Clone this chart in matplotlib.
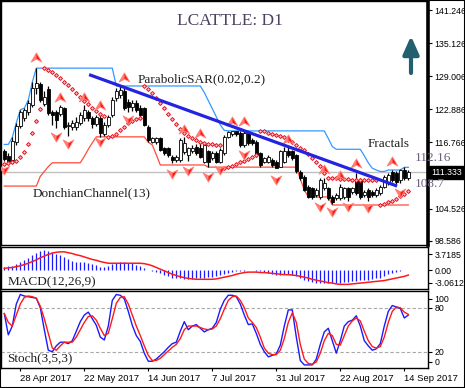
import matplotlib
matplotlib.use("Agg")
import matplotlib.pyplot as plt
from matplotlib.path import Path
from matplotlib.patches import Rectangle

W, H = 465, 388

# ---- data (bar index 0..101, D1 bars) ----
date_labels = ["28 Apr 2017", "22 May 2017", "14 Jun 2017", "7 Jul 2017",
               "31 Jul 2017", "22 Aug 2017", "14 Sep 2017"]
date_bars = [4, 20, 36, 52, 68, 84, 100]

opens = [115.2, 114.2, 113.6, 116.8, 119.8, 121.3, 122.4, 123.7, 126.8, 127.6,
         123.9, 126.6, 122.4, 122.3, 122.0, 123.1, 119.8, 119.6, 119.6, 120.3,
         121.3, 122.4, 121.3, 120.2, 121.3, 118.3, 120.0, 121.8, 125.0, 125.5,
         126.3, 124.3, 123.4, 124.0, 123.1, 123.1, 119.7, 116.9, 116.9, 117.6,
         115.7, 115.7, 114.1, 113.5, 113.5, 115.0, 114.4, 115.1, 116.0, 115.7,
         113.2, 115.1, 113.8, 114.8, 113.2, 114.8, 117.8, 118.3, 118.8, 118.45,
         116.3, 118.45, 117.2, 116.9, 114.75, 113.2, 113.2, 113.5, 113.2, 112.3,
         113.2, 115.1, 115.1, 114.4, 111.36, 110.44, 108.6, 108.3, 107.05, 106.74,
         108.3, 108.29, 106.74, 106.44, 106.44, 106.74, 108.29, 107.66, 109.82, 109.82,
         107.05, 107.97, 107.66, 107.05, 107.36, 108.6, 109.2, 111.36, 111.06, 109.82,
         111.67, 110.14]
highs = [115.5, 114.9, 117.7, 120.4, 122.8, 123.1, 124.6, 127.9, 130.5, 127.9,
         126.3, 127.2, 122.8, 122.8, 123.7, 123.4, 120.5, 121.0, 121.5, 122.3,
         123.7, 122.8, 121.6, 121.8, 121.8, 120.5, 121.9, 125.2, 126.9, 127.2,
         126.8, 124.8, 124.6, 124.6, 123.7, 123.3, 120.0, 117.8, 117.8, 117.8,
         116.0, 116.0, 114.4, 114.4, 117.6, 117.7, 116.0, 116.2, 116.4, 116.8,
         116.5, 115.4, 115.2, 115.1, 115.7, 118.2, 118.9, 118.9, 118.9, 118.8,
         118.9, 118.8, 117.5, 117.2, 115.0, 114.1, 114.4, 113.8, 113.5, 115.4,
         116.0, 116.0, 115.4, 114.7, 111.6, 110.7, 108.9, 108.6, 108.3, 110.1,
         110.2, 108.6, 107.0, 107.4, 109.1, 108.6, 108.6, 108.6, 111.06, 110.1,
         108.0, 108.3, 108.0, 108.3, 108.9, 110.8, 111.2, 111.6, 111.4, 111.9,
         112.16, 111.6]
lows = [113.3, 113.0, 113.3, 116.3, 119.5, 120.8, 121.8, 123.3, 125.8, 124.3,
        123.5, 121.8, 120.0, 119.4, 121.7, 119.3, 117.9, 119.1, 119.1, 119.9,
        120.8, 120.8, 119.4, 119.8, 117.8, 118.0, 119.7, 121.4, 124.5, 125.0,
        122.7, 122.4, 122.6, 122.4, 121.4, 119.8, 116.8, 116.6, 116.5, 115.1,
        114.4, 114.1, 113.0, 113.2, 113.2, 114.7, 113.3, 114.8, 114.4, 113.8,
        112.9, 112.2, 113.5, 113.0, 113.0, 114.5, 117.5, 118.0, 118.0, 116.0,
        116.0, 116.3, 116.3, 114.1, 112.3, 112.9, 112.9, 112.3, 112.2, 112.2,
        112.9, 114.1, 113.5, 111.2, 109.8, 107.7, 106.5, 106.4, 106.7, 106.4,
        108.0, 106.1, 105.3, 106.1, 106.1, 106.4, 105.9, 107.3, 107.0, 106.4,
        106.7, 106.0, 106.7, 106.7, 107.0, 108.3, 108.9, 109.5, 109.0, 109.2,
        109.8, 109.9]
closes = [113.7, 113.4, 117.0, 119.8, 122.3, 122.8, 124.0, 126.8, 127.8, 124.6,
          125.1, 122.2, 121.8, 120.9, 123.3, 119.6, 120.0, 120.3, 120.6, 121.8,
          122.8, 121.3, 120.2, 121.4, 118.6, 120.0, 121.5, 124.6, 126.3, 126.5,
          123.1, 123.4, 124.0, 122.8, 121.8, 120.0, 117.2, 117.5, 117.6, 115.4,
          114.8, 114.4, 113.5, 114.1, 117.2, 116.6, 115.7, 115.7, 114.8, 114.1,
          116.3, 113.2, 114.8, 113.2, 115.4, 117.8, 118.75, 118.8, 118.3, 116.3,
          118.5, 116.6, 116.6, 114.4, 112.6, 113.8, 114.1, 112.6, 112.0, 115.1,
          115.1, 114.4, 113.8, 111.4, 110.14, 107.97, 106.74, 106.74, 107.97, 109.82,
          109.2, 106.44, 105.82, 107.05, 108.6, 108.29, 106.74, 108.29, 107.36, 106.74,
          107.66, 106.74, 107.05, 107.97, 108.6, 110.44, 110.75, 109.82, 109.51, 111.67,
          110.14, 111.333]

sar = [112.8, 113.0, 113.1, 113.4, 114.0, 115.0, 116.5, 118.5, 120.8, 123.0,
       130.5, 130.2, 129.8, 129.2, 128.6, 128.0, 127.3, 126.6, 125.9, 125.2,
       124.5, 123.8, 123.1, 122.5, 122.1, 121.7,
       117.8, 118.0, 118.4, 119.0, 119.7, 120.3, 120.8, 121.1, 121.3,
       127.2, 126.7, 125.9, 125.0, 124.1, 123.1, 122.1, 121.1, 120.1, 119.2,
       118.5, 117.9, 117.5, 117.2, 116.9, 116.7, 116.5, 116.4, 116.3, 116.2,
       112.0, 112.2, 112.5, 112.8, 113.1, 113.4, 113.7, 114.0, 114.4,
       118.9, 118.8, 118.6, 118.4, 118.2, 118.0, 117.7, 117.3, 116.8, 116.3,
       115.8, 115.3, 114.6, 113.9, 113.1, 112.4, 111.2, 110.2, 110.1, 110.1,
       110.0, 110.0, 110.0, 109.9, 109.9, 109.9, 109.8, 109.8, 109.8, 109.8,
       105.2, 105.4, 105.7, 106.0, 106.4, 106.8, 107.3, 107.8]

donchian_up = ([116.4] * 2 + [117.7, 120.4, 122.8, 123.1, 124.6, 127.9]
               + [130.5] * 20 + [127.2] * 21
               + [127.2, 126.0, 124.5, 123.0, 121.5, 120.0, 119.0]
               + [118.9] * 25 + [117.5, 116.0] + [115.5] * 7
               + [114.3, 113.0, 112.0, 111.67] + [111.4] * 2 + [111.67] * 4
               + [112.16] * 2)
donchian_low = ([108.7] * 9 + [110.5, 111.4, 112.3] + [113.0] * 8
                + [114.2, 115.5, 116.7] + [117.8] * 13 + [116.8, 116.3, 114.5]
                + [112.6] * 12 + [112.2] * 23 + [110.0, 108.0]
                + [106.7] * 6 + [105.2] * 20)

fractal_up_bars = [8, 14, 20, 24, 30, 45, 49, 57, 60, 71, 80, 84, 88, 97]
fractal_up_vals = [132.56, 125.17, 125.17, 123.69, 128.86, 119.3, 118.45,
                   120.8, 120.8, 117.4, 111.8, 110.75, 112.9, 113.4]
fractal_dn_bars = [0, 13, 16, 24, 31, 42, 46, 51, 54, 60, 68, 79, 82, 86, 91, 99]
fractal_dn_vals = [111.67, 117.77, 116.48, 116.85, 120.92, 110.93, 111.5,
                   110.45, 111.7, 114.45, 109.82, 104.9, 104.0, 104.9,
                   104.6, 107.4]

trend_bars = [21.2, 98.2]
trend_vals = [129.3, 108.7]

macd_hist = [0.8, 0.9, 1.0, 1.4, 1.9, 2.4, 2.9, 3.5, 4.1, 4.6,
             4.7, 4.5, 4.2, 3.8, 3.5, 3.0, 2.5, 2.2, 2.0, 1.9,
             1.8, 1.6, 1.4, 1.1, 0.8, 0.8, 1.0, 1.4, 1.7, 1.9,
             1.8, 1.7, 1.6, 1.3, 0.9, 0.5, 0.1, -0.2, -0.5, -0.8,
             -1.2, -1.5, -1.8, -2.0, -2.0, -2.1, -2.2, -2.1, -2.0, -2.0,
             -1.8, -1.7, -1.6, -1.5, -1.3, -1.0, -0.7, -0.5, -0.3, -0.2,
             -0.2, -0.1, -0.1, -0.2, -0.3, -0.5, -0.7, -0.9, -1.1, -1.2,
             -1.0, -1.0, -1.2, -1.5, -1.9, -2.3, -2.7, -2.9, -3.0, -3.0,
             -3.0, -3.0, -3.1, -3.1, -3.0, -2.9, -2.8, -2.6, -2.5, -2.4,
             -2.4, -2.3, -2.2, -2.0, -1.8, -1.4, -1.0, -0.7, -0.5, -0.2,
             -0.1, 0.0]
macd_signal = [0.4, 0.5, 0.6, 0.8, 1.0, 1.3, 1.6, 2.0, 2.4, 2.9,
               3.3, 3.7, 4.0, 4.2, 4.3, 4.3, 4.1, 3.9, 3.6, 3.4,
               3.1, 2.8, 2.5, 2.3, 2.0, 1.8, 1.6, 1.6, 1.6, 1.6,
               1.6, 1.6, 1.6, 1.6, 1.6, 1.5, 1.3, 1.0, 0.6, 0.2,
               -0.2, -0.6, -1.0, -1.3, -1.6, -1.8, -2.0, -2.1, -2.2, -2.2,
               -2.2, -2.2, -2.2, -2.1, -1.9, -1.7, -1.5, -1.3, -1.0, -0.8,
               -0.6, -0.5, -0.5, -0.5, -0.6, -0.6, -0.7, -0.8, -0.9, -1.0,
               -1.1, -1.1, -1.2, -1.3, -1.5, -1.7, -1.9, -2.2, -2.4, -2.6,
               -2.8, -3.0, -3.1, -3.3, -3.4, -3.4, -3.4, -3.3, -3.2, -3.1,
               -3.0, -2.9, -2.8, -2.7, -2.6, -2.5, -2.3, -2.1, -1.9, -1.7,
               -1.5, -1.2]

stoch_k = [72, 43, 55, 85, 98, 96, 95, 94, 93, 80,
           50, 22, 20, 28, 33, 33, 31, 35, 48, 61,
           70, 74, 65, 56, 40, 36, 55, 90, 98, 97,
           92, 75, 56, 42, 34, 18, 7, 7, 10, 15,
           20, 26, 31, 33, 48, 61, 50, 55, 57, 52,
           47, 50, 52, 60, 78, 90, 97, 97, 95, 85,
           70, 57, 58, 45, 30, 20, 13, 15, 17, 29,
           55, 77, 77, 40, 8, 2, 2, 2, 10, 30,
           47, 52, 35, 18, 35, 55, 61, 63, 69, 55,
           35, 28, 22, 24, 31, 55, 75, 83, 81, 79,
           66, 70]
stoch_d = [72, 60, 55, 70, 85, 94, 96, 95, 93, 82,
           65, 45, 25, 22, 28, 33, 33, 33, 40, 50,
           60, 68, 69, 63, 52, 42, 45, 65, 86, 94,
           95, 85, 70, 55, 42, 28, 15, 8, 8, 11,
           16, 21, 26, 30, 38, 50, 55, 55, 55, 53,
           51, 50, 51, 55, 65, 78, 90, 95, 96, 90,
           80, 66, 60, 53, 40, 25, 18, 16, 16, 22,
           38, 60, 73, 60, 30, 10, 4, 3, 6, 18,
           35, 45, 42, 30, 29, 42, 55, 62, 66, 62,
           48, 35, 27, 25, 27, 40, 60, 75, 81, 80,
           74, 71]

price_ticks = [141.246, 135.126, 129.006, 122.886, 116.766, 104.526, 98.586]
last_price = 111.333


def frac(x, y):
    # pixel (from top-left) -> figure fraction
    return x / W, 1 - y / H


def box(x0, y0, x1, y1):
    return [x0 / W, 1 - y1 / H, (x1 - x0) / W, (y1 - y0) / H]


n = len(closes)
idx = list(range(n))
XLIM = ((1 - 4.3) / 4, (428 - 4.3) / 4)
serif = "Liberation Serif"
sans = "Liberation Sans"
LAB = 6.3

fig = plt.figure(figsize=(W / 100, H / 100), dpi=100)
fig.patch.set_facecolor("white")

ax = fig.add_axes(box(1, 1, 428, 245))
ax_m = fig.add_axes(box(1, 247, 428, 289))
ax_s = fig.add_axes(box(1, 291, 428, 368))

for a in (ax, ax_m, ax_s):
    a.set_xlim(*XLIM)
    for s in a.spines.values():
        s.set_linewidth(1.0)
        s.set_color("black")
    a.yaxis.tick_right()
    a.tick_params(axis="y", length=3, width=0.8, pad=1.5, labelsize=LAB,
                  labelfontfamily=sans)
    a.tick_params(axis="x", length=0, labelbottom=False)
ax.spines["right"].set_linewidth(2.6)

# ---- main price panel ----
ax.set_ylim(141.246 - 235 / 5.41, 141.246 + 9 / 5.41)
ax.set_yticks(price_ticks)
ax.set_yticklabels([f"{v:.3f}" for v in price_ticks])

ax.axhline(last_price, color="#c0c0c0", lw=1.0, zorder=1)
ax.plot(idx, donchian_up, color="#3399ff", lw=0.9, zorder=2)
ax.plot(idx, donchian_low, color="#ff4b3a", lw=0.9, zorder=2)

for i in idx:
    o, h, l, c = opens[i], highs[i], lows[i], closes[i]
    ax.vlines(i, l, h, color="black", lw=0.9, zorder=3)
    bottom = min(o, c)
    height = max(abs(c - o), 0.12)
    fc = "black" if c < o else "white"
    ax.bar(i, height, bottom=bottom, width=0.72, facecolor=fc,
           edgecolor="black", linewidth=0.6, zorder=4)

ax.plot(idx, sar, ls="none", marker="D", ms=2.0, mfc="#ffc8c8",
        mec="#e8101c", mew=0.7, zorder=5)

C = [Path.MOVETO, Path.LINETO, Path.LINETO, Path.LINETO, Path.CLOSEPOLY]
up_arrow = Path([(0, 0.85), (1, -0.85), (0, -0.3), (-1, -0.85), (0, 0.85)], C)
up_half = Path([(0, 0.85), (0, -0.3), (-1, -0.85), (0, 0.85)], C[:3] + [Path.CLOSEPOLY])
dn_arrow = Path([(0, -0.85), (1, 0.85), (0, 0.3), (-1, 0.85), (0, -0.85)], C)
dn_half = Path([(0, -0.85), (0, 0.3), (-1, 0.85), (0, -0.85)], C[:3] + [Path.CLOSEPOLY])
for bars, vals, full, half in ((fractal_up_bars, fractal_up_vals, up_arrow, up_half),
                               (fractal_dn_bars, fractal_dn_vals, dn_arrow, dn_half)):
    ax.plot(bars, vals, ls="none", marker=full, ms=7.8, mfc="#ff1a10",
            mec="#ff9088", mew=0.6, zorder=6)
    ax.plot(bars, vals, ls="none", marker=half, ms=7.8, mfc="#ff7d72",
            mec="none", zorder=6)

ax.plot(trend_bars, trend_vals, color="#2424e0", lw=2.3,
        solid_capstyle="butt", zorder=7)

fig.text(*frac(230, 21), "LCATTLE: D1", family=serif, fontsize=12.5,
         color="#4d4060", ha="center", va="center")
fig.text(*frac(138, 79), "ParabolicSAR(0.02,0.2)", family=serif, fontsize=9.5,
         color="#202020", ha="left", va="center")
fig.text(*frac(33, 193), "DonchianChannel(13)", family=serif, fontsize=9.5,
         color="#202020", ha="left", va="center")
fig.text(*frac(368, 144), "Fractals", family=serif, fontsize=9.5,
         color="#202020", ha="left", va="center")
fig.text(*frac(415, 158), "112.16", family=serif, fontsize=9.5,
         color="#6e6080", ha="left", va="center", zorder=10)
fig.text(*frac(415, 184), "108.7", family=serif, fontsize=9.5,
         color="#6e6080", ha="left", va="center", zorder=10)
fig.text(*frac(431, 172.5), f"{last_price:.3f}", family=sans, fontsize=LAB,
         color="white", ha="left", va="center",
         bbox=dict(boxstyle="square,pad=0.2", fc="black", ec="black"))

ax.annotate("", xy=(411, H - 36), xytext=(411, H - 73),
            xycoords="figure pixels", textcoords="figure pixels",
            arrowprops=dict(arrowstyle="-|>,head_length=0.9,head_width=0.4",
                            lw=3, color="#235f6e", mutation_scale=12,
                            shrinkA=0, shrinkB=0))

# ---- MACD panel ----
ax_m.set_ylim(-4.5, 5.45)
ax_m.vlines(idx, 0, macd_hist, color="#1a1aff", lw=0.9)
ax_m.plot(idx, macd_signal, color="#ff1a1a", lw=1.1)
ax_m.set_yticks([3.7185, 0.0, -3.0612])
ax_m.set_yticklabels(["3.7185", "0.00", "-3.0612"])
fig.text(*frac(8, 282), "MACD(12,26,9)", family=serif, fontsize=9.5,
         color="#202020", ha="left", va="center")

# ---- Stochastic panel ----
ax_s.set_ylim(-2.2, 102.8)
for lvl in (80, 20):
    ax_s.axhline(lvl, color="#a8a8a8", lw=0.8, ls=(0, (3, 2)))
ax_s.plot(idx, stoch_k, color="#1a1aff", lw=1.0)
ax_s.plot(idx, stoch_d, color="#ff1a1a", lw=1.0)
ax_s.set_yticks([91.9, 80, 20, 6.4])
ax_s.set_yticklabels(["100", "80", "20", "0"])
fig.text(*frac(7, 358), "Stoch(3,5,3)", family=serif, fontsize=9.5,
         color="#202020", ha="left", va="center")

ax_s.set_xticks(date_bars)
ax_s.set_xticklabels(date_labels)
ax_s.tick_params(axis="x", length=2, width=0.8, pad=2.5, labelbottom=True,
                 labelsize=6.8, labelfontfamily=sans)
for lab in ax_s.get_xticklabels():
    lab.set_ha("left")

fig.patches.append(Rectangle((0, 0), 1, 1, transform=fig.transFigure,
                             fill=False, ec="black", lw=1.5))

fig.savefig("out.png", dpi=100)
